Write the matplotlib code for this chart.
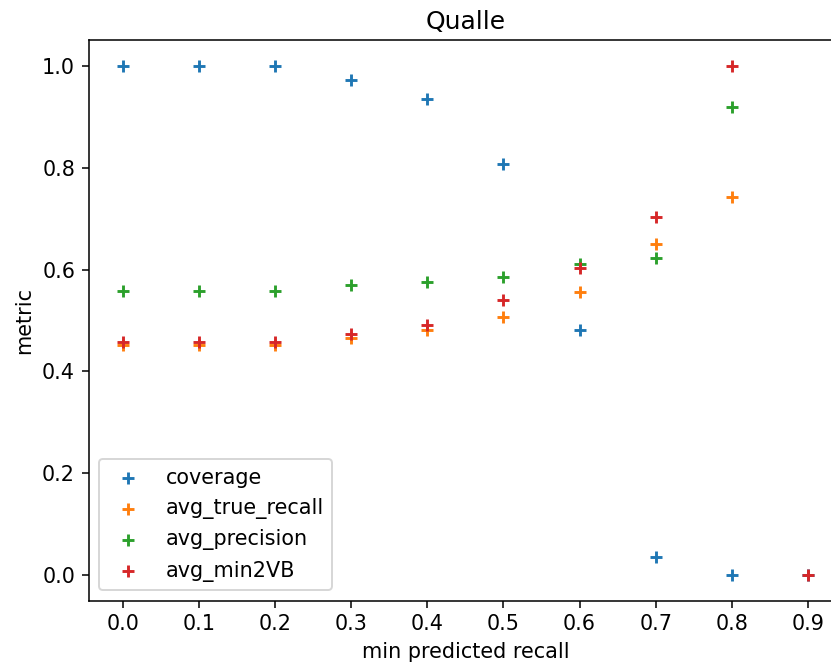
import matplotlib
matplotlib.use('Agg')
import matplotlib.pyplot as plt
import numpy as np

# min predicted recall thresholds
thresholds = [0.0, 0.1, 0.2, 0.3, 0.4, 0.5, 0.6, 0.7, 0.8, 0.9]

coverage = [1.0, 1.0, 1.0, 0.972, 0.935, 0.807, 0.481, 0.035, 0.0, 0.0]
avg_true_recall = [0.452, 0.452, 0.452, 0.466, 0.481, 0.507, 0.556, 0.650, 0.743, np.nan]
avg_precision = [0.558, 0.558, 0.558, 0.570, 0.576, 0.585, 0.611, 0.623, 0.919, np.nan]
avg_min2VB = [0.458, 0.458, 0.458, 0.473, 0.491, 0.540, 0.603, 0.703, 1.0, 0.0]

plt.rcParams['font.size'] = 10.8

dpi = 138.75
fig = plt.figure(figsize=(831 / dpi, 666 / dpi), dpi=dpi)
ax = fig.add_axes([0.1065, 0.0983, 0.907, 0.841])

ax.scatter(thresholds, coverage, marker='+', label='coverage')
ax.scatter(thresholds, avg_true_recall, marker='+', label='avg_true_recall')
ax.scatter(thresholds, avg_precision, marker='+', label='avg_precision')
ax.scatter(thresholds, avg_min2VB, marker='+', label='avg_min2VB')

ax.set_xticks(thresholds)
ax.set_title('Qualle')
ax.set_xlabel('min predicted recall')
ax.set_ylabel('metric')
ax.legend(loc='lower left')

fig.savefig('out.png', dpi=dpi)
